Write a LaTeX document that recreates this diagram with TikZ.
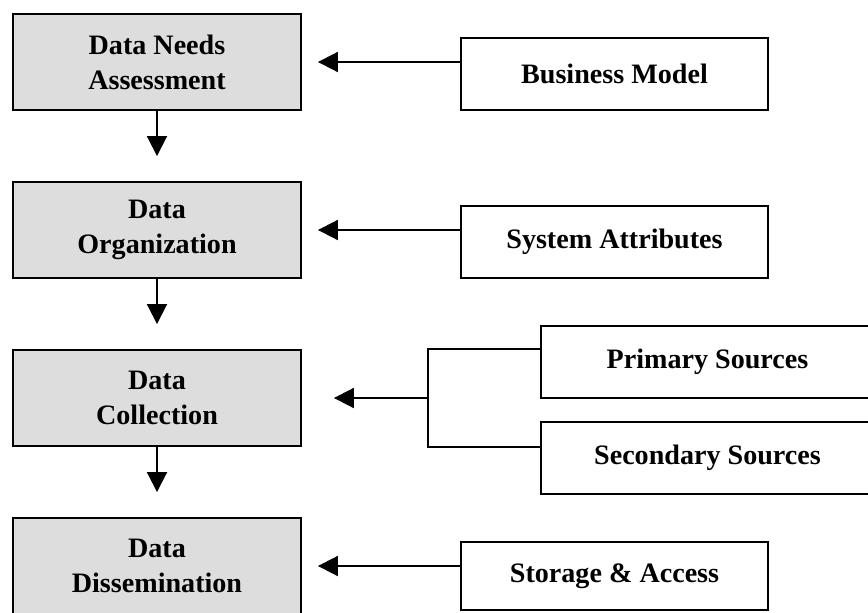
\documentclass[tikz,border=0pt]{standalone}
\usepackage{xcolor}
\usepackage{fontspec}
\setmainfont{Liberation Serif}
\usepackage{tikz}
\usetikzlibrary{arrows.meta}

\definecolor{stagegray}{RGB}{221,221,221}

\tikzset{
  stage/.style={rectangle, draw=black, fill=stagegray, line width=1.1pt,
    minimum width=5.76cm, minimum height=1.92cm, align=center,
    font=\bfseries\fontsize{16}{20}\selectfont},
  input/.style={rectangle, draw=black, fill=white, line width=1.1pt,
    minimum width=6.14cm, minimum height=1.44cm, align=center,
    font=\bfseries\fontsize{16}{20}\selectfont},
  feed/.style={-{Triangle[length=0.4cm,width=0.4cm]}, line width=1.1pt},
}

\begin{document}
\begin{tikzpicture}[x=0.02cm, y=-0.02cm]
\clip (0,0) rectangle (868,612);

% stages down the left
\node [stage] (needs) at (157,62) {Data Needs\\Assessment};
\node [stage] (org) at (157,230) {Data\\Organization};
\node [stage] (coll) at (157,398) {Data\\Collection};
\node [stage] (diss) at (157,566) {Data\\Dissemination};

% inputs on the right
\node [input] (bm) at (614.5,74) {Business Model};
\node [input] (sa) at (614.5,242) {System Attributes};
\node [input, minimum width=6.66cm] (prim) at (707.5,362) {Primary Sources};
\node [input, minimum width=6.66cm] (sec) at (707.5,458) {Secondary Sources};
\node [input, minimum height=1.36cm] (store) at (614.5,576) {Storage \& Access};

\draw [feed, shorten >=0.5cm] (needs) -- (org);
\draw [feed, shorten >=0.5cm] (org) -- (coll);
\draw [feed, shorten >=0.5cm] (coll) -- (diss);

\draw [feed, shorten >=0.32cm] (bm.west |- needs.east) -- (needs.east);
\draw [feed, shorten >=0.32cm] (sa.west |- org.east) -- (org.east);
\draw [feed, shorten >=0.32cm] (store.west |- diss.east) -- (diss.east);

% the two sources join before the collection stage
\coordinate (fork) at (428,398);
\draw [line width=1.1pt] (prim.west |- coll.north) -| (coll.south -| fork) -- (sec.west |- coll.south);
\draw [feed, shorten >=0.64cm] (fork) -- (coll.east);
\end{tikzpicture}
\end{document}
